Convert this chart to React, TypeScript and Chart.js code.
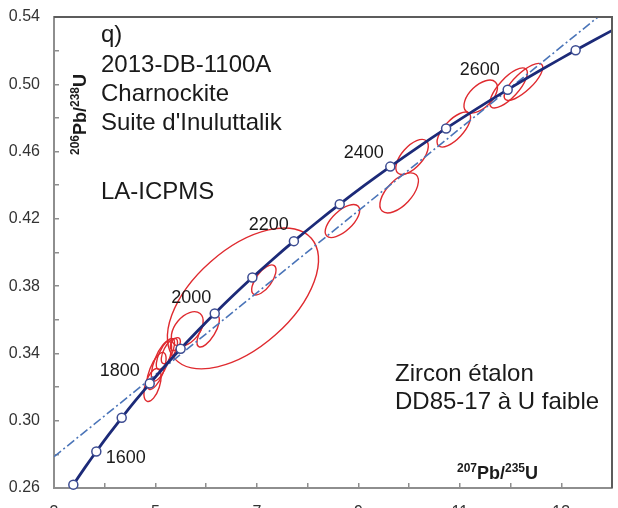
import React, { useEffect, useRef } from 'react';
import { Chart, registerables } from 'chart.js';

Chart.register(...registerables);

// Concordia curve (age in Ma, 207Pb/235U, 206Pb/238U)
const concordiaAges = [1450, 1500, 1550, 1600, 1650, 1700, 1750, 1800, 1850, 1900, 1950, 2000, 2050, 2100, 2150, 2200, 2250, 2300, 2350, 2400, 2450, 2500, 2550, 2600, 2650, 2700, 2750];
const concordiaX = [3.17049, 3.38099, 3.60212, 3.83442, 4.07843, 4.33477, 4.60404, 4.88691, 5.18405, 5.49619, 5.82408, 6.16852, 6.53036, 6.91046, 7.30974, 7.72917, 8.16977, 8.63262, 9.11882, 9.62957, 10.1661, 10.72971, 11.32177, 11.94372, 12.59705, 13.28336, 14.00431];
const concordiaY = [0.25224, 0.26199, 0.27181, 0.28172, 0.2917, 0.30175, 0.31189, 0.3221, 0.3324, 0.34277, 0.35323, 0.36377, 0.37439, 0.38509, 0.39587, 0.40674, 0.41769, 0.42873, 0.43986, 0.45107, 0.46237, 0.47375, 0.48523, 0.4968, 0.50845, 0.52019, 0.53203];

// Age markers every 100 Ma
const markerAges = [1500, 1600, 1700, 1800, 1900, 2000, 2100, 2200, 2300, 2400, 2500, 2600, 2700];
const markerX = [3.38099, 3.83442, 4.33477, 4.88691, 5.49619, 6.16852, 6.91046, 7.72917, 8.63262, 9.62957, 10.72971, 11.94372, 13.28336];
const markerY = [0.26199, 0.28172, 0.30175, 0.3221, 0.34277, 0.36377, 0.38509, 0.40674, 0.42873, 0.45107, 0.47375, 0.4968, 0.52019];

// Discordia (dash-dot)
const discordiaX = [3, 14];
const discordiaY = [0.2786, 0.5467];

// Error ellipses: centre, half-extent in x and y, correlation
const ellipseX = [6.725, 4.941, 5.02, 5.118, 5.196, 5.275, 5.392, 5.627, 6.039, 7.137, 8.686, 10.059, 9.804, 10.882, 11.412, 11.961, 12.255];
const ellipseY = [0.3727, 0.3212, 0.3296, 0.3355, 0.3397, 0.3414, 0.3456, 0.3545, 0.3533, 0.3837, 0.4187, 0.4568, 0.4354, 0.4731, 0.4927, 0.4978, 0.5014];
const ellipseSX = [1.49, 0.17, 0.19, 0.2, 0.18, 0.16, 0.1, 0.314, 0.22, 0.24, 0.34, 0.32, 0.38, 0.33, 0.33, 0.37, 0.38];
const ellipseSY = [0.0419, 0.0098, 0.011, 0.0119, 0.0092, 0.0075, 0.0038, 0.0103, 0.0095, 0.0089, 0.0098, 0.0104, 0.0119, 0.0104, 0.0098, 0.0119, 0.011];
const ellipseRho = [0.55, 0.5, 0.65, 0.7, 0.7, 0.65, 0.4, 0.45, 0.7, 0.65, 0.65, 0.62, 0.6, 0.7, 0.55, 0.75, 0.78];

// Age labels on concordia (left edge, vertical middle, in data units)
const ageLabels = ['1600', '1800', '2000', '2200', '2400', '2600'];
const ageLabelX = [4.02, 3.9, 5.31, 6.84, 8.71, 11.0];
const ageLabelY = [0.2778, 0.3295, 0.3729, 0.4163, 0.4591, 0.5084];

const xTickLabels = [3, 5, 7, 9, 11, 13];
const yTickLabels = [0.26, 0.3, 0.34, 0.38, 0.42, 0.46, 0.5, 0.54];

const textLinesTopLeft = ['q)', '2013-DB-1100A', 'Charnockite', "Suite d'Inuluttalik"];
const textMethod = 'LA-ICPMS';
const textBottomRight = ['Zircon étalon', 'DD85-17 à U faible'];

const FONT = '"Liberation Sans", Arial, Helvetica, sans-serif';

const ellipsePlugin = {
  id: 'ellipses',
  beforeDatasetsDraw(chart: any) {
    const { ctx, chartArea, scales } = chart;
    const xs = scales.x;
    const ys = scales.y;
    const kx = Math.abs(xs.getPixelForValue(1) - xs.getPixelForValue(0));
    const ky = Math.abs(ys.getPixelForValue(0.3) - ys.getPixelForValue(0.2)) * 10;
    ctx.save();
    ctx.beginPath();
    ctx.rect(chartArea.left, chartArea.top, chartArea.right - chartArea.left, chartArea.bottom - chartArea.top);
    ctx.clip();
    ctx.strokeStyle = '#df2a2f';
    ctx.lineWidth = 1.4;
    for (let i = 0; i < ellipseX.length; i++) {
      const cx = xs.getPixelForValue(ellipseX[i]);
      const cy = ys.getPixelForValue(ellipseY[i]);
      const A = ellipseSX[i] * kx;
      const B = ellipseSY[i] * ky;
      const c = -ellipseRho[i] * A * B;
      const a2 = A * A;
      const b2 = B * B;
      const mid = (a2 + b2) / 2;
      const d = Math.sqrt(((a2 - b2) / 2) ** 2 + c * c);
      const r1 = Math.sqrt(mid + d);
      const r2 = Math.sqrt(Math.max(mid - d, 0.01));
      const th = 0.5 * Math.atan2(2 * c, a2 - b2);
      ctx.beginPath();
      ctx.ellipse(cx, cy, r1, r2, th, 0, Math.PI * 2);
      ctx.stroke();
    }
    ctx.restore();
  },
};

function drawSupTitle(ctx: any, parts: { t: string; sup: boolean }[]) {
  let x = 0;
  for (const p of parts) {
    ctx.font = p.sup ? `bold 12px ${FONT}` : `bold 18px ${FONT}`;
    ctx.fillText(p.t, x, p.sup ? -7 : 0);
    x += ctx.measureText(p.t).width;
  }
}

const textPlugin = {
  id: 'texts',
  afterDraw(chart: any) {
    const { ctx, chartArea, scales } = chart;
    const xs = scales.x;
    const ys = scales.y;
    ctx.save();
    // top and right frame
    ctx.strokeStyle = '#5c5c5c';
    ctx.lineWidth = 2;
    ctx.beginPath();
    ctx.moveTo(chartArea.left, chartArea.top);
    ctx.lineTo(chartArea.right, chartArea.top);
    ctx.lineTo(chartArea.right, chartArea.bottom);
    ctx.stroke();

    ctx.fillStyle = '#1a1a1a';
    ctx.textAlign = 'left';
    ctx.textBaseline = 'alphabetic';
    ctx.font = `24px ${FONT}`;
    const baseTop = [42, 72, 101, 130];
    textLinesTopLeft.forEach((t, i) => ctx.fillText(t, 101, baseTop[i]));
    ctx.fillText(textMethod, 101, 199);
    const baseBR = [381, 409];
    textBottomRight.forEach((t, i) => ctx.fillText(t, 395, baseBR[i]));

    // age labels
    ctx.font = `18px ${FONT}`;
    ctx.textBaseline = 'middle';
    ageLabels.forEach((t, i) => {
      ctx.fillText(t, xs.getPixelForValue(ageLabelX[i]), ys.getPixelForValue(ageLabelY[i]));
    });

    // axis titles
    ctx.textBaseline = 'alphabetic';
    ctx.save();
    ctx.translate(457, 479);
    drawSupTitle(ctx, [
      { t: '207', sup: true },
      { t: 'Pb/', sup: false },
      { t: '235', sup: true },
      { t: 'U', sup: false },
    ]);
    ctx.restore();

    ctx.save();
    ctx.translate(86, 155);
    ctx.rotate(-Math.PI / 2);
    drawSupTitle(ctx, [
      { t: '206', sup: true },
      { t: 'Pb/', sup: false },
      { t: '238', sup: true },
      { t: 'U', sup: false },
    ]);
    ctx.restore();
    ctx.restore();
  },
};

const zeroPad = (s: any) => {
  s.paddingTop = 0;
  s.paddingBottom = 0;
  s.paddingLeft = 0;
  s.paddingRight = 0;
};

export default function App() {
  const ref = useRef<HTMLCanvasElement | null>(null);
  useEffect(() => {
    if (!ref.current) return;
    const chart = new Chart(ref.current, {
      type: 'scatter',
      data: {
        datasets: [
          {
            label: 'ages',
            data: markerX.map((x, i) => ({ x, y: markerY[i] })),
            showLine: false,
            pointRadius: 4.5,
            pointBackgroundColor: '#ffffff',
            pointBorderColor: '#3c4c92',
            pointBorderWidth: 1.5,
            clip: false as any,
          },
          {
            label: 'concordia',
            data: concordiaX.map((x, i) => ({ x, y: concordiaY[i] })),
            showLine: true,
            borderColor: '#1c2a78',
            borderWidth: 2.8,
            pointRadius: 0,
            tension: 0.3,
          },
          {
            label: 'discordia',
            data: discordiaX.map((x, i) => ({ x, y: discordiaY[i] })),
            showLine: true,
            borderColor: '#4a74b8',
            borderWidth: 1.6,
            borderDash: [9, 3, 2, 3],
            pointRadius: 0,
          },
        ],
      },
      options: {
        animation: false,
        responsive: false,
        maintainAspectRatio: false,
        events: [],
        layout: { padding: { top: 17, right: 3, left: 0, bottom: 0 } },
        plugins: { legend: { display: false }, tooltip: { enabled: false } },
        scales: {
          x: {
            type: 'linear',
            min: 3,
            max: 14,
            afterFit: (s: any) => {
              s.height = 32;
              zeroPad(s);
            },
            border: { color: '#8e8e8e', width: 2 },
            grid: { drawOnChartArea: false, drawTicks: true, tickLength: -5, color: '#8e8e8e', lineWidth: 1.5 },
            ticks: {
              stepSize: 1,
              autoSkip: false,
              maxRotation: 0,
              padding: 20,
              color: '#333333',
              font: { family: FONT, size: 16 },
              callback: (v: any) => (xTickLabels.includes(Number(v)) ? String(v) : ''),
            },
          },
          y: {
            type: 'linear',
            min: 0.26,
            max: 0.54,
            afterFit: (s: any) => {
              s.width = 54;
              zeroPad(s);
            },
            border: { color: '#8e8e8e', width: 2 },
            grid: { drawOnChartArea: false, drawTicks: true, tickLength: -5, color: '#8e8e8e', lineWidth: 1.5 },
            ticks: {
              stepSize: 0.02,
              autoSkip: false,
              padding: 19,
              color: '#333333',
              font: { family: FONT, size: 16 },
              callback: (v: any) => (yTickLabels.some((t) => Math.abs(t - Number(v)) < 1e-6) ? Number(v).toFixed(2) : ''),
            },
          },
        },
      },
      plugins: [ellipsePlugin, textPlugin],
    } as any);
    return () => chart.destroy();
  }, []);
  return (
    <div style={{ position: 'fixed', left: 0, top: 0, width: 618, height: 508, overflow: 'hidden', background: '#ffffff' }}>
      <canvas ref={ref} width={618} height={520} style={{ display: 'block', width: 618, height: 520 }} />
    </div>
  );
}
